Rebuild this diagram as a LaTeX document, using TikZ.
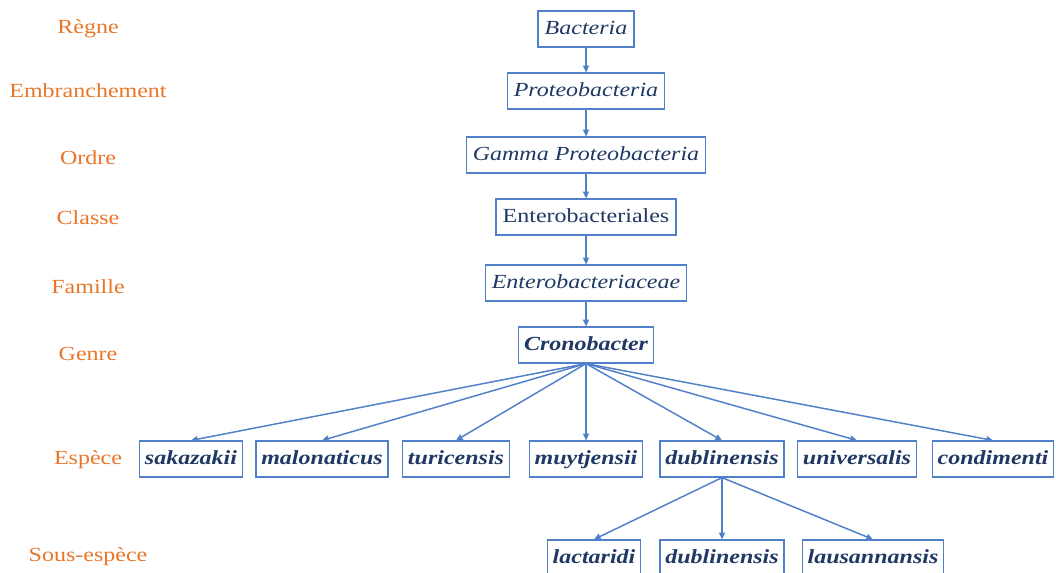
\documentclass[tikz,border=0pt]{standalone}
\usepackage{fontspec}
\setmainfont[FakeStretch=1.2]{Liberation Serif}
\usetikzlibrary{arrows.meta}
\definecolor{rankorange}{RGB}{232,118,40}
\definecolor{taxnavy}{RGB}{31,56,100}
\definecolor{linkblue}{RGB}{80,128,200}
\begin{document}
\begin{tikzpicture}[x=0.75pt, y=-0.75pt,
  rank/.style = {text=rankorange, font=\fontsize{15}{18}\selectfont},
  taxon/.style = {draw=linkblue, line width=0.9pt, text=taxnavy,
    font=\fontsize{15}{18}\selectfont, minimum height=27pt,
    text height=11pt, text depth=3.5pt, inner xsep=5pt},
  species/.style = {taxon, inner xsep=4pt, font=\fontsize{15}{18}\selectfont\bfseries\itshape},
  link/.style = {draw=linkblue, line width=1.1pt, -{Triangle[length=5pt,width=4.5pt]}}]
\useasboundingbox (0,0) rectangle (1056,572);

\node[rank] (lregne) at (88,29) {Règne};
\node[rank] (lembr) at (88,91) {Embranchement};
\node[rank] (lordre) at (88,158) {Ordre};
\node[rank] (lclasse) at (88,218) {Classe};
\node[rank] (lfam) at (88,287) {Famille};
\node[rank] (lgenre) at (88,354) {Genre};
\node[rank] (lesp) at (88,460) {Espèce};
\node[rank] (lsous) at (88,557) {Sous-espèce};

\node[taxon] (bact) at (586,29) {\textit{Bacteria}};
\node[taxon] (proteo) at (586,91) {\textit{Proteobacteria}};
\node[taxon] (gamma) at (586,155) {\textit{Gamma Proteobacteria}};
\node[taxon] (enterales) at (586,217) {Enterobacteriales};
\node[taxon] (enteraceae) at (586,283) {\textit{Enterobacteriaceae}};
\node[species] (crono) at (586,345) {Cronobacter};

\node[species] (sak) at (191,459) {sakazakii};
\node[species] (malo) at (322,459) {malonaticus};
\node[species] (turi) at (456,459) {turicensis};
\node[species] (muyt) at (586,459) {muytjensii};
\node[species] (dubl) at (722,459) {dublinensis};
\node[species] (univ) at (857,459) {universalis};
\node[species] (cond) at (993,459) {condimenti};

\node[species] (lact) at (594,558) {lactaridi};
\node[species] (dubsub) at (722,558) {dublinensis};
\node[species] (laus) at (873,558) {lausannansis};

\draw[link] (bact) -- (proteo);
\draw[link] (proteo) -- (gamma);
\draw[link] (gamma) -- (enterales);
\draw[link] (enterales) -- (enteraceae);
\draw[link] (enteraceae) -- (crono);

\draw[link] (crono.south) -- (sak.north);
\draw[link] (crono.south) -- (malo.north);
\draw[link] (crono.south) -- (turi.north);
\draw[link] (crono.south) -- (muyt.north);
\draw[link] (crono.south) -- (dubl.north);
\draw[link] (crono.south) -- (univ.north);
\draw[link] (crono.south) -- (cond.north);

\draw[link] (dubl.south) -- (lact.north);
\draw[link] (dubl.south) -- (dubsub.north);
\draw[link] (dubl.south) -- (laus.north);
\end{tikzpicture}
\end{document}
